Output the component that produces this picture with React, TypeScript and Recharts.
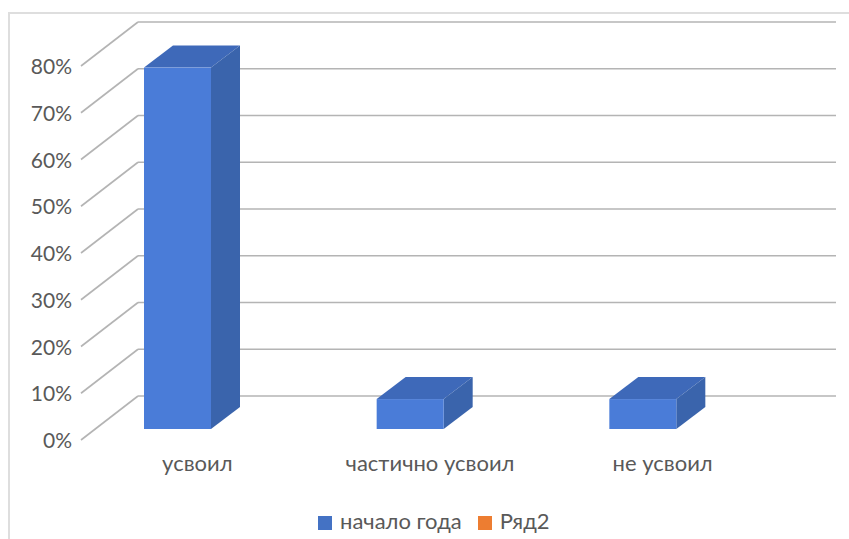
import { Bar, BarChart, CartesianGrid, Legend, XAxis, YAxis } from "recharts";

const categories = ["усвоил", "частично усвоил", "не усвоил"];
const startOfYear = [77.3, 6.4, 6.4];
const row2: (number | null)[] = [null, null, null];
const yTicks = [0, 10, 20, 30, 40, 50, 60, 70, 80];

const data = categories.map((name, i) => ({
  name,
  start: startOfYear[i],
  row2: row2[i],
}));

const FONT = "Lato, Carlito, 'Open Sans', sans-serif";
const TEXT = "#595959";
const GRID = "#b4b4b4";
// offset of the floor front edge from the back wall
const DEPTH_X = 57;
const DEPTH_Y = 44;

function GridLine(props: any) {
  const { x1, x2, y1, index } = props;
  return (
    <g key={`grid-${index}`}>
      <line x1={x1} x2={x2} y1={y1} y2={y1} stroke={GRID} strokeWidth={1.6} />
      <line x1={x1} x2={x1 - DEPTH_X} y1={y1} y2={y1 + DEPTH_Y} stroke={GRID} strokeWidth={1.6} />
    </g>
  );
}

function YTick({ x, y, payload }: any) {
  return (
    <text x={x - DEPTH_X - 1} y={y + DEPTH_Y + 8} textAnchor="end" fontSize={21} fontFamily={FONT} fill={TEXT}>
      {payload.value}%
    </text>
  );
}

function XTick({ x, y, payload }: any) {
  return (
    <text x={x - DEPTH_X} y={y + 67} textAnchor="middle" fontSize={22} fontFamily={FONT} fill={TEXT}>
      {payload.value}
    </text>
  );
}

// box drawn in front of the wall, same vertical scale as the grid
function Box3D({ x, y, width, height }: any) {
  if (!height) return null;
  const left = x - 43;
  const right = left + width;
  const top = y + 33;
  const bottom = top + height;
  const dx = 29;
  const dy = 22;
  return (
    <g>
      <path d={`M${left} ${top}L${left + dx} ${top - dy}H${right + dx}L${right} ${top}Z`} fill="#3e69b9" />
      <path d={`M${right} ${top}L${right + dx} ${top - dy}V${bottom - dy}L${right} ${bottom}Z`} fill="#3a64ac" />
      <rect x={left} y={top} width={width} height={height} fill="#4a7cd8" />
    </g>
  );
}

export default function App() {
  return (
    <div
      style={{
        position: "absolute",
        left: 0,
        top: 0,
        width: 849,
        height: 539,
        background: "#fff",
        overflow: "hidden",
      }}
    >
      <div
        style={{
          position: "absolute",
          left: 8,
          top: 12,
          width: 860,
          height: 560,
          borderLeft: "2px solid #dedede",
          borderTop: "2px solid #dedede",
        }}
      />
      <BarChart
        width={849}
        height={539}
        data={data}
        barSize={67}
        barGap={0}
        margin={{ top: 22, right: 13, bottom: 0, left: 0 }}
        style={{ position: "absolute", left: 0, top: 0 }}
      >
        <CartesianGrid vertical={false} horizontal={(p: any) => <GridLine {...p} />} />
        <XAxis dataKey="name" height={116} axisLine={false} tickLine={false} tick={<XTick />} interval={0} />
        <YAxis width={138} domain={[0, 80]} ticks={yTicks} axisLine={false} tickLine={false} tick={<YTick />} />
        <Bar dataKey="start" name="начало года" fill="#4472c4" shape={<Box3D />} isAnimationActive={false} />
        <Bar dataKey="row2" name="Ряд2" fill="#ed7d31" isAnimationActive={false} />
        <Legend
          iconType="square"
          iconSize={14}
          align="left"
          verticalAlign="bottom"
          itemSorter={null}
          wrapperStyle={{ position: "absolute", left: 318, top: 507, width: "auto", fontFamily: FONT, fontSize: 22 }}
          formatter={(value: string) => <span style={{ color: TEXT, marginLeft: 4, marginRight: 6 }}>{value}</span>}
        />
      </BarChart>
    </div>
  );
}
